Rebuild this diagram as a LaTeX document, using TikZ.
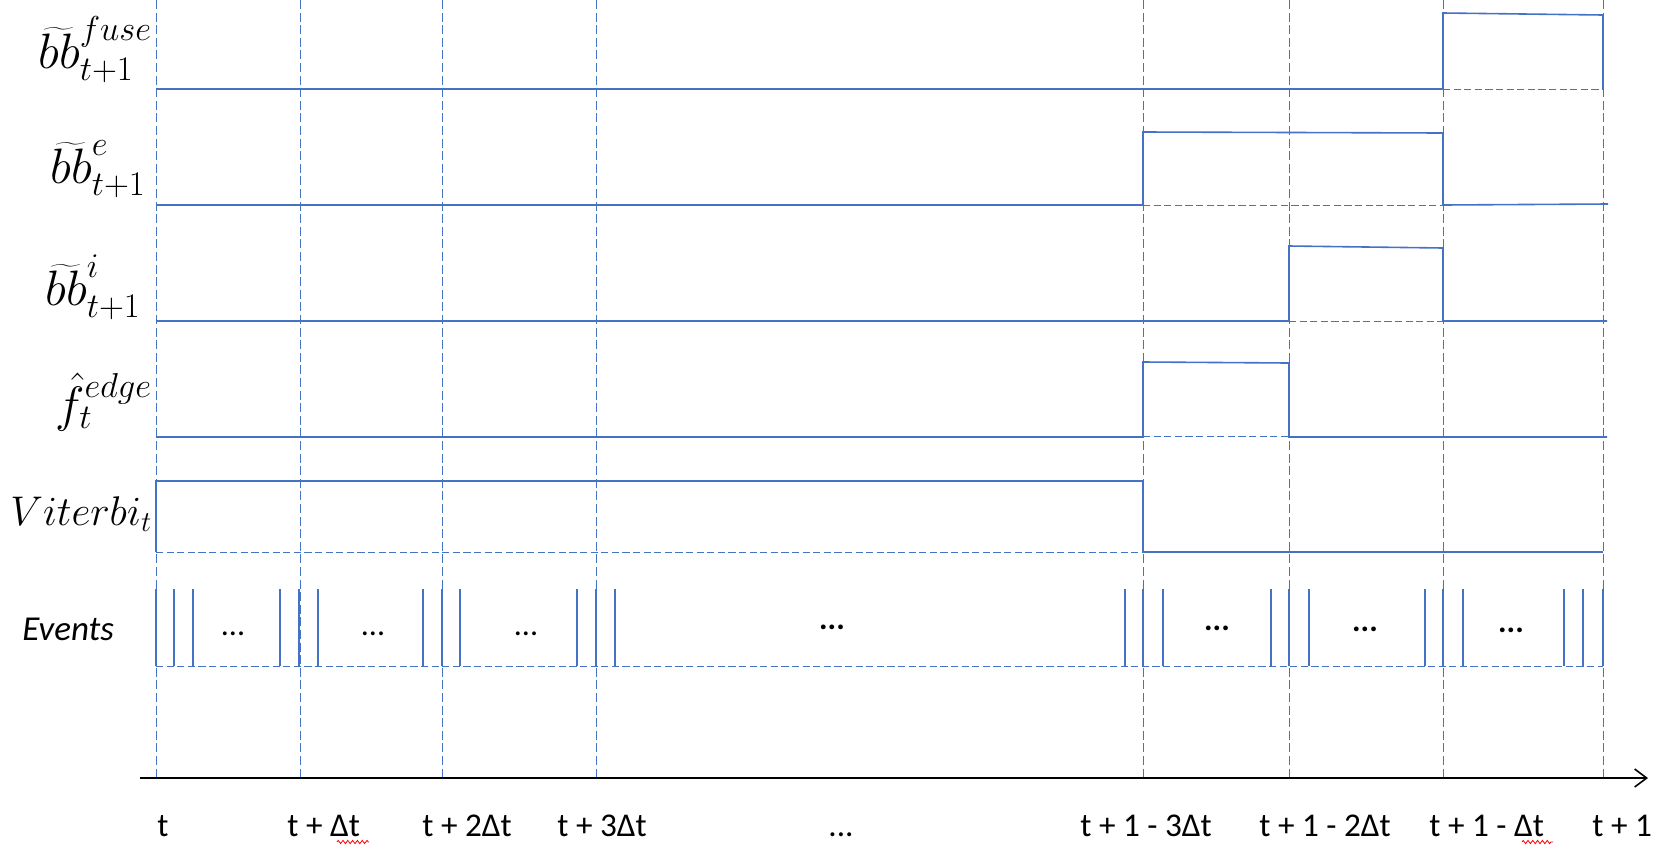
\documentclass[tikz,border=0pt]{standalone}
\usepackage{fontspec}
\setmainfont{Carlito}
\usetikzlibrary{arrows.meta,decorations.pathmorphing}
\definecolor{sigblue}{HTML}{4472C4}
\begin{document}
\begin{tikzpicture}[x=0.5pt,y=-0.5pt,
  sig/.style={draw=sigblue,line width=0.8pt,line join=miter},
  guide/.style={draw=sigblue,line width=0.45pt,dash pattern=on 4.5pt off 1.8pt},
  lowbase/.style={draw=sigblue,line width=0.5pt,dash pattern=on 3.6pt off 1.7pt},
  evt/.style={draw=sigblue,line width=0.8pt},
  axisline/.style={draw=black,line width=0.9pt,-{Straight Barb[length=6pt,width=9pt,line width=0.8pt]}},
  tlabel/.style={anchor=base west,inner sep=0pt,font=\fontsize{16.6}{19}\selectfont},
  mlabel/.style={anchor=base west,inner sep=0pt,font=\fontsize{23}{27}\selectfont},
  vlabel/.style={anchor=base west,inner sep=0pt,font=\fontsize{20}{24}\selectfont},
  dotsl/.style={inner sep=0pt,font=\fontsize{16}{19}\selectfont},
  squiggle/.style={draw=red,line width=0.4pt,decorate,decoration={zigzag,segment length=2.4pt,amplitude=0.8pt}}
]
\useasboundingbox (0,0) rectangle (1662,852);

% time guides
\foreach \n/\x in {0/156,1/300,2/442,3/596,4/1143,5/1289,6/1443,7/1603}{
  \coordinate (gt\n) at (\x,0);
  \coordinate (gb\n) at (\x,778);
  \draw[guide] (gt\n) -- (gb\n);
}

% axis
\coordinate (axs) at (140,778);
\coordinate (axe) at (1648,778);
\draw[axisline] (axs) -- (axe);

% dashed low baselines under pulses
\draw[lowbase] (1443,89) -- (1603,89);
\draw[lowbase] (1143,205) -- (1443,205);
\draw[lowbase] (1289,321) -- (1443,321);
\draw[lowbase] (1143,436) -- (1289,436);
\draw[lowbase] (156,552) -- (1143,552);
\draw[lowbase] (156,666) -- (1603,666);

% signals
\draw[sig] (156,89) -- (1443,89) -- (1443,13) -- (1603,15) -- (1603,89);
\draw[sig] (156,205) -- (1143,205) -- (1143,132) -- (1443,133) -- (1443,205) -- (1608,204);
\draw[sig] (156,321) -- (1289,321) -- (1289,246) -- (1443,248) -- (1443,321) -- (1607,321);
\draw[sig] (156,437) -- (1143,437) -- (1143,362) -- (1289,363) -- (1289,437) -- (1607,437);
\draw[sig] (156,552) -- (156,481) -- (1143,481) -- (1143,552) -- (1603,552);

% events
\foreach \x in {156,174,193,280,299,318,423,442,460,577,596,615,1125,1143,1163,1271,1289,1309,1425,1443,1463,1564,1583,1603}{
  \draw[evt] (\x,589) -- (\x,666);
}

% event dots
\node[dotsl] (d1) at (233,634) {...};
\node[dotsl] (d2) at (373,634) {...};
\node[dotsl] (d3) at (526,634) {...};
\node[dotsl] (d4) at (832,627) {\textbf{...}};
\node[dotsl] (d5) at (1217,628) {\textbf{...}};
\node[dotsl] (d6) at (1365,629) {\textbf{...}};
\node[dotsl] (d7) at (1511,630) {\textbf{...}};

% signal labels
\node[mlabel] (lfuse) at (38,68) {$\widetilde{bb}^{fuse}_{t+1}$};
\node[mlabel] (le) at (50,183) {$\widetilde{bb}^{e}_{t+1}$};
\node[mlabel] (li) at (45,305) {$\widetilde{bb}^{i}_{t+1}$};
\node[mlabel] (lf) at (55,421) {$\hat{f}^{edge}_{t}$};
\node[vlabel] (lv) at (10,525) {$Viterbi_t$};
\node[anchor=base west,inner sep=0pt,font=\fontsize{17.5}{20}\selectfont\itshape] (lev) at (22,640) {Events};

% time labels
\node[tlabel] (t0) at (157,836) {t};
\node[tlabel] (t1) at (287,836) {t + Δt};
\node[tlabel] (t2) at (422,836) {t + 2Δt};
\node[tlabel] (t3) at (557,836) {t + 3Δt};
\node[tlabel] (tm) at (828,836) {...};
\node[tlabel] (t4) at (1080,836) {t + 1 - 3Δt};
\node[tlabel] (t5) at (1259,836) {t + 1 - 2Δt};
\node[tlabel] (t6) at (1429,836) {t + 1 - Δt};
\node[tlabel] (t7) at (1592,836) {t + 1};

% spell-check squiggles
\coordinate (sq1a) at (337,842); \coordinate (sq1b) at (369,842);
\coordinate (sq2a) at (1522,842); \coordinate (sq2b) at (1553,842);
\draw[squiggle] (sq1a) -- (sq1b);
\draw[squiggle] (sq2a) -- (sq2b);
\end{tikzpicture}
\end{document}
